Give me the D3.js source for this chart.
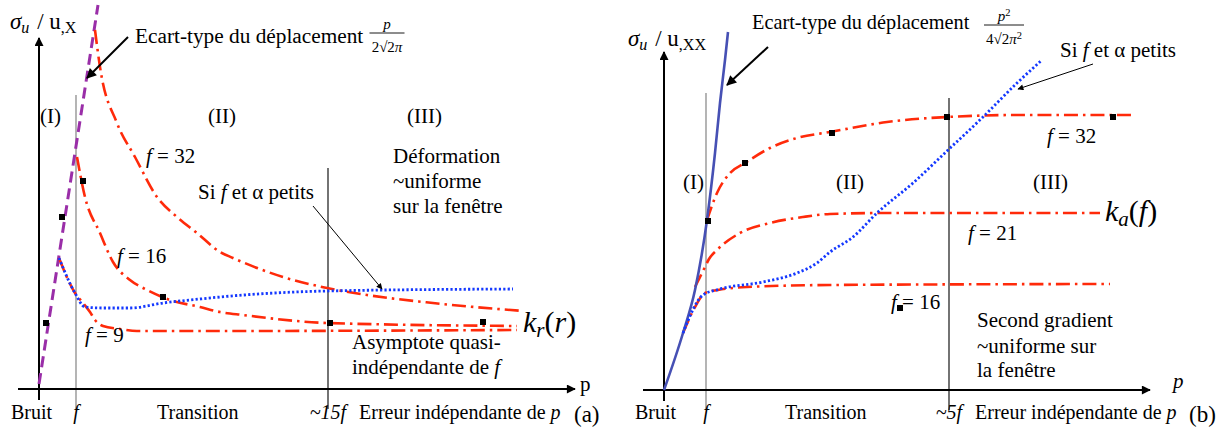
<!DOCTYPE html>
<html><head><meta charset="utf-8">
<script src="https://cdn.jsdelivr.net/npm/d3@7"></script>
<style>
body{margin:0;background:#fff}
svg{display:block}
text{font-family:"Liberation Serif","DejaVu Serif","Times New Roman",serif;fill:#000}
</style>
</head><body>
<svg id="c" width="1231" height="437" font-family="Liberation Serif, DejaVu Serif, Times New Roman, serif"></svg>
<script>
// ---------- DATA (arbitrary units: x = p, y = sigma) ----------
// Panel (a)
const aEcart  = [[0,5],[59,384]];
const aF32    = [[56,359],[61,322],[78,266],[96,232],[118,192],[138,172],[158,156],[181,137],[194,131],[244,112],[288,101],[328,94],[394,86],[484,78]];
const aF16    = [[38,232],[46,192],[61,156],[74,127],[91,109],[108,99],[131,89],[161,82],[181,77],[204,74],[289,66],[478,63]];
const aF9     = [[20,131],[36,96],[44,86],[51,77],[56,69],[64,63],[81,60],[98,58],[181,58],[478,59]];
const aSmall  = [[20,131],[36,96],[46,82],[64,81],[91,81],[124,86],[161,90],[181,92],[288,98],[474,100]];
const aPoints = [[7,66],[23,172],[44,208],[124,92],[291,66],[444,67]];
const aVLines = [{x:37, top:294, cls:"gray"},{x:289, top:221, cls:"black"}];
const aTickLabels = [{x:37,t:"f"},{x:289,t:"~15f"}];
const aZoneLabels = ["Bruit","Transition","Erreur indépendante de "];
const aRegions = ["(I)","(II)","(III)"];

// Panel (b)
const bEcart  = [[0,0],[19,57],[31,100],[43,170],[51,237],[56,287],[61,330],[64,358]];
const bF32    = [[43,170],[53,197],[66,217],[81,227],[106,242],[133,252],[166,258],[223,268],[283,273],[356,275],[469,275]];
const bF21    = [[31,103],[41,123],[45,131],[53,140],[76,157],[106,167],[139,173],[166,176],[223,177],[436,177]];
const bF16    = [[19,57],[31,83],[41,97],[54,100],[83,103],[166,105],[446,106]];
const bSmall  = [[19,57],[39,95],[56,101],[99,108],[133,117],[153,127],[166,138],[189,153],[213,177],[249,207],[284,240],[319,273],[353,307],[378,330]];
const bPoints = [[44,169],[81,227],[168,257],[283,273],[449,273],[236,82]];
const bVLines = [{x:42, top:297, cls:"gray"},{x:285, top:292, cls:"black"}];
const bTickLabels = [{x:42,t:"f"},{x:285,t:"~5f"}];

// ---------- SCALES ----------
const xa = d3.scaleLinear().domain([0,536]).range([39,575]);
const ya = d3.scaleLinear().domain([0,384]).range([389,5]);
const xb = d3.scaleLinear().domain([0,486]).range([664,1150]);
const yb = d3.scaleLinear().domain([0,358]).range([390,32]);

const svg = d3.select("#c");
const defs = svg.append("defs");
function marker(id, w, h){
  defs.append("marker").attr("id",id).attr("viewBox","0 0 10 10").attr("refX",9).attr("refY",5)
    .attr("markerWidth",w).attr("markerHeight",h).attr("markerUnits","userSpaceOnUse").attr("orient","auto")
    .append("path").attr("d","M0,0 L10,5 L0,10 Z").attr("fill","#000");
}
marker("axArr",11,9);
marker("bigArr",14,10);
marker("thinArr",11,6);

const RED="#ff2a0a", BLUE="#1438ff", PURPLE="#9a2ea8", NAVY="#4650b4";
const BASE = 419;
const FB = 20;

function panel(x, y, cfg){
  const g = svg.append("g");
  g.selectAll("line.v").data(cfg.vlines).join("line")
    .attr("x1",d=>x(d.x)).attr("x2",d=>x(d.x))
    .attr("y1",d=>y(d.top)).attr("y2",y(0)+20)
    .attr("stroke",d=>d.cls==="gray"?"#777":"#000").attr("stroke-width",1.1);
  g.append("line").attr("x1",x(0)-21).attr("x2",x.range()[1]).attr("y1",y(0)).attr("y2",y(0))
    .attr("stroke","#000").attr("stroke-width",2).attr("marker-end","url(#axArr)");
  g.append("line").attr("x1",x(0)).attr("x2",x(0)).attr("y1",y(0)+11).attr("y2",cfg.axTop)
    .attr("stroke","#000").attr("stroke-width",2).attr("marker-end","url(#axArr)");

  const line = d3.line().x(d=>x(d[0])).y(d=>y(d[1])).curve(d3.curveMonotoneX);
  const dashDot = "14,5,2.5,5";
  cfg.curves.forEach(c=>{
    g.append("path").attr("d",line(c.data)).attr("fill","none")
      .attr("stroke",c.color).attr("stroke-width",c.w||2.6)
      .attr("stroke-dasharray",c.dash==="dd"?dashDot:c.dash);
  });
  g.selectAll("rect.pt").data(cfg.points).join("rect")
    .attr("x",d=>x(d[0])-3).attr("y",d=>y(d[1])-3).attr("width",6).attr("height",6).attr("fill","#000");
  g.selectAll("text.tk").data(cfg.ticks).join("text")
    .attr("x",d=>x(d.x)).attr("y",BASE).attr("text-anchor","middle")
    .attr("font-size",FB).attr("font-style","italic").text(d=>d.t);
  return g;
}

panel(xa, ya, {
  vlines:aVLines, axTop:38, ticks:aTickLabels,
  curves:[
    {data:aEcart, color:PURPLE, dash:"11,6", w:3},
    {data:aF32, color:RED, dash:"dd"},
    {data:aF16, color:RED, dash:"dd"},
    {data:aF9, color:RED, dash:"dd"},
    {data:aSmall, color:BLUE, dash:"2.2,2.2", w:2.8}
  ],
  points:aPoints
});
panel(xb, yb, {
  vlines:bVLines, axTop:52, ticks:bTickLabels,
  curves:[
    {data:bF32, color:RED, dash:"dd"},
    {data:bF21, color:RED, dash:"dd"},
    {data:bF16, color:RED, dash:"dd"},
    {data:bEcart, color:NAVY, dash:null, w:2.6},
    {data:bSmall, color:BLUE, dash:"2.2,2.2", w:2.8}
  ],
  points:bPoints
});

// ---------- TEXT / ANNOTATIONS ----------
function txt(x,y,size,parts,anchor){
  const t = svg.append("text").attr("x",x).attr("y",y).attr("font-size",size).attr("text-anchor",anchor||"start")
    .attr("font-family","Liberation Serif, DejaVu Serif, Times New Roman, serif");
  parts.forEach(p=>{
    if(typeof p==="string"){ t.append("tspan").text(p); return; }
    const s = t.append("tspan").text(p.t);
    if(p.i) s.attr("font-style","italic");
    if(p.sub){ s.attr("baseline-shift","-25%").attr("font-size",size*0.7); }
    if(p.sup){ s.attr("baseline-shift","super").attr("font-size",size*0.7); }
    if(p.dx) s.attr("dx",p.dx);
  });
  return t;
}
function frac(cx, yl, half, num, den, size, dd){
  txt(cx, yl-4, size, num, "middle");
  svg.append("line").attr("x1",cx-half).attr("x2",cx+half).attr("y1",yl).attr("y2",yl).attr("stroke","#000").attr("stroke-width",0.9);
  txt(cx, yl+dd, size, den, "middle");
}
const F = 21;
// panel a
txt(10,29,23,[{t:"σ",i:1},{t:"u",i:1,sub:1},{t:" / u",dx:2},{t:",X",sub:1}]);
txt(135,43,21.3,["Ecart-type du déplacement"]);
frac(387,33,17.5,[{t:"p",i:1}],["2√2",{t:"π",i:1}],15,19);
svg.append("line").attr("x1",128).attr("y1",37).attr("x2",87).attr("y2",78).attr("stroke","#000").attr("stroke-width",2).attr("marker-end","url(#bigArr)");
txt(40,123,F,[aRegions[0]]); txt(208,123,F,[aRegions[1]]); txt(407,123,F,[aRegions[2]]);
txt(146,163,F,[{t:"f",i:1}," = 32"]);
txt(117,263,F,[{t:"f",i:1}," = 16"]);
txt(85,342,F,[{t:"f",i:1}," = 9"]);
txt(393,163,F,["Déformation"]); txt(393,188,F,["~uniforme"]); txt(393,213,F,["sur la fenêtre"]);
txt(198,199,F,["Si ",{t:"f",i:1}," et α petits"]);
svg.append("line").attr("x1",313).attr("y1",206).attr("x2",382).attr("y2",289).attr("stroke","#000").attr("stroke-width",1).attr("marker-end","url(#thinArr)");
txt(352,349,F,["Asymptote quasi-"]); txt(352,374,F,["indépendante de ",{t:"f",i:1}]);
txt(523,332,30,[{t:"k",i:1},{t:"r",i:1,sub:1},"(",{t:"r",i:1},")"]);
txt(580,391,F,["p"]);
txt(11,BASE,FB,[aZoneLabels[0]]);
txt(157,BASE,FB,[aZoneLabels[1]]);
txt(359,BASE,FB,[aZoneLabels[2],{t:"p",i:1}]);
txt(574,422,23,["(a)"]);
// panel b
txt(628,46,23,[{t:"σ",i:1},{t:"u",i:1,sub:1},{t:" / u",dx:2},{t:",XX",sub:1}]);
txt(752,29,20.3,["Ecart-type du déplacement"]);
frac(1004,25,20,[{t:"p",i:1},{t:"2",sup:1}],["4√2",{t:"π",i:1},{t:"2",sup:1}],15,19);
svg.append("line").attr("x1",768).attr("y1",47).attr("x2",727).attr("y2",85).attr("stroke","#000").attr("stroke-width",2).attr("marker-end","url(#bigArr)");
txt(1060,57,F,["Si ",{t:"f",i:1}," et α petits"]);
svg.append("line").attr("x1",1093).attr("y1",64).attr("x2",1018).attr("y2",89).attr("stroke","#000").attr("stroke-width",1).attr("marker-end","url(#thinArr)");
txt(683,189,F,[aRegions[0]]); txt(836,189,F,[aRegions[1]]); txt(1033,189,F,[aRegions[2]]);
txt(1047,143,F,[{t:"f",i:1}," = 32"]);
txt(968,240,F,[{t:"f",i:1}," = 21"]);
txt(891,309,F,[{t:"f",i:1}," = 16"]);
txt(1105,221,30,[{t:"k",i:1},{t:"a",i:1,sub:1},"(",{t:"f",i:1},")"]);
txt(977,327,F,["Second gradient"]); txt(977,353,F,["~uniforme sur"]); txt(977,377,F,["la fenêtre"]);
txt(1173,388,F,[{t:"p",i:1}]);
txt(635,BASE,FB,[aZoneLabels[0]]);
txt(785,BASE,FB,[aZoneLabels[1]]);
txt(975,BASE,FB,[aZoneLabels[2],{t:"p",i:1}]);
txt(1189,422,23,["(b)"]);
</script>
</body></html>
